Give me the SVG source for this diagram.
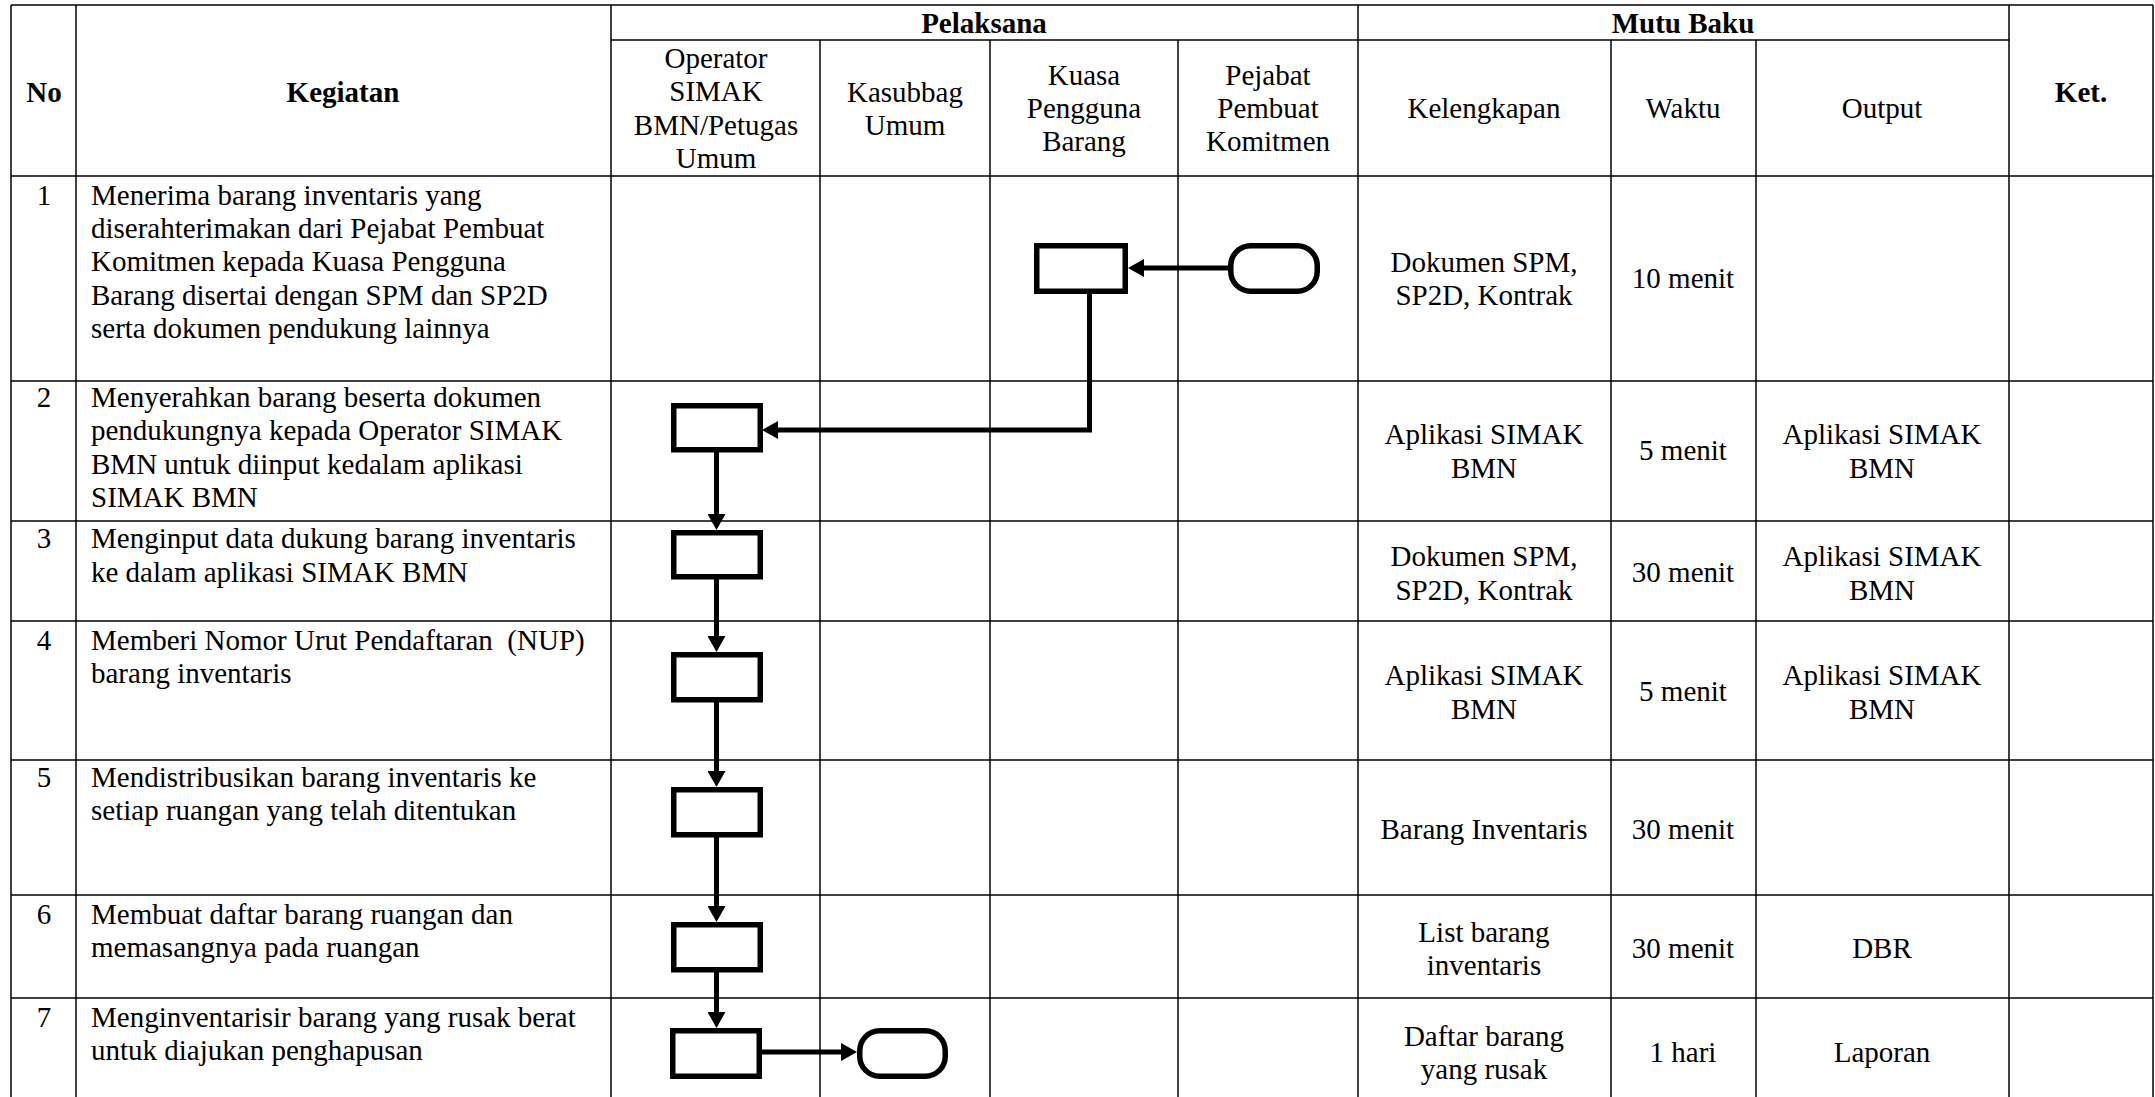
<svg xmlns="http://www.w3.org/2000/svg" width="2155" height="1097" viewBox="0 0 2155 1097">
<style>
.t{font-family:"Liberation Serif","Times New Roman",serif;font-size:29px;fill:#000}
.b{font-weight:bold}
.c{text-anchor:middle}
.grid line{stroke:#000;stroke-width:1.5}
.proc{fill:#fff;stroke:#000;stroke-width:5.5}
.term{fill:#fff;stroke:#000;stroke-width:5.5}
.conn{fill:none;stroke:#000;stroke-width:5}
</style>
<defs>
<marker id="arr" markerUnits="userSpaceOnUse" markerWidth="16" markerHeight="18" refX="10" refY="9" orient="auto">
<path d="M0,0 L16,9 L0,18 Z" fill="#000"/>
</marker>
</defs>
<rect width="2155" height="1097" fill="#fff"/>
<g id="table" class="grid">
<line x1="11" y1="5" x2="2153" y2="5"/>
<line x1="611" y1="40" x2="2009" y2="40"/>
<line x1="11" y1="176" x2="2153" y2="176"/>
<line x1="11" y1="381" x2="2153" y2="381"/>
<line x1="11" y1="521" x2="2153" y2="521"/>
<line x1="11" y1="621" x2="2153" y2="621"/>
<line x1="11" y1="760" x2="2153" y2="760"/>
<line x1="11" y1="895" x2="2153" y2="895"/>
<line x1="11" y1="998" x2="2153" y2="998"/>
<line x1="11" y1="5" x2="11" y2="1097"/>
<line x1="76" y1="5" x2="76" y2="1097"/>
<line x1="611" y1="5" x2="611" y2="1097"/>
<line x1="820" y1="40" x2="820" y2="1097"/>
<line x1="990" y1="40" x2="990" y2="1097"/>
<line x1="1178" y1="40" x2="1178" y2="1097"/>
<line x1="1358" y1="5" x2="1358" y2="1097"/>
<line x1="1611" y1="40" x2="1611" y2="1097"/>
<line x1="1756" y1="40" x2="1756" y2="1097"/>
<line x1="2009" y1="5" x2="2009" y2="1097"/>
<line x1="2153" y1="5" x2="2153" y2="1097"/>
</g>
<g id="header" class="t">
<text class="b c" x="44" y="102">No</text>
<text class="b c" x="343" y="102">Kegiatan</text>
<text class="b c" x="984" y="33">Pelaksana</text>
<text class="b c" x="1683" y="33">Mutu Baku</text>
<text class="b c" x="2081" y="102">Ket.</text>
<text class="c" x="716" y="68">Operator</text>
<text class="c" x="716" y="101">SIMAK</text>
<text class="c" x="716" y="135">BMN/Petugas</text>
<text class="c" x="716" y="168">Umum</text>
<text class="c" x="905" y="102">Kasubbag</text>
<text class="c" x="905" y="135">Umum</text>
<text class="c" x="1084" y="85">Kuasa</text>
<text class="c" x="1084" y="118">Pengguna</text>
<text class="c" x="1084" y="151">Barang</text>
<text class="c" x="1268" y="85">Pejabat</text>
<text class="c" x="1268" y="118">Pembuat</text>
<text class="c" x="1268" y="151">Komitmen</text>
<text class="c" x="1484" y="118">Kelengkapan</text>
<text class="c" x="1683" y="118">Waktu</text>
<text class="c" x="1882" y="118">Output</text>
</g>
<g id="rows" class="t">
<text class="c" x="44" y="205">1</text>
<text x="91" y="205">Menerima barang inventaris yang</text>
<text x="91" y="238">diserahterimakan dari Pejabat Pembuat</text>
<text x="91" y="271">Komitmen kepada Kuasa Pengguna</text>
<text x="91" y="305">Barang disertai dengan SPM dan SP2D</text>
<text x="91" y="338">serta dokumen pendukung lainnya</text>
<text class="c" x="1484" y="272">Dokumen SPM,</text>
<text class="c" x="1484" y="305">SP2D, Kontrak</text>
<text class="c" x="1683" y="288">10 menit</text>

<text class="c" x="44" y="407">2</text>
<text x="91" y="407">Menyerahkan barang beserta dokumen</text>
<text x="91" y="440">pendukungnya kepada Operator SIMAK</text>
<text x="91" y="474">BMN untuk diinput kedalam aplikasi</text>
<text x="91" y="507">SIMAK BMN</text>
<text class="c" x="1484" y="444">Aplikasi SIMAK</text>
<text class="c" x="1484" y="478">BMN</text>
<text class="c" x="1683" y="460">5 menit</text>
<text class="c" x="1882" y="444">Aplikasi SIMAK</text>
<text class="c" x="1882" y="478">BMN</text>

<text class="c" x="44" y="548">3</text>
<text x="91" y="548">Menginput data dukung barang inventaris</text>
<text x="91" y="582">ke dalam aplikasi SIMAK BMN</text>
<text class="c" x="1484" y="566">Dokumen SPM,</text>
<text class="c" x="1484" y="600">SP2D, Kontrak</text>
<text class="c" x="1683" y="582">30 menit</text>
<text class="c" x="1882" y="566">Aplikasi SIMAK</text>
<text class="c" x="1882" y="600">BMN</text>

<text class="c" x="44" y="650">4</text>
<text x="91" y="650" xml:space="preserve">Memberi Nomor Urut Pendaftaran  (NUP)</text>
<text x="91" y="683">barang inventaris</text>
<text class="c" x="1484" y="685">Aplikasi SIMAK</text>
<text class="c" x="1484" y="719">BMN</text>
<text class="c" x="1683" y="701">5 menit</text>
<text class="c" x="1882" y="685">Aplikasi SIMAK</text>
<text class="c" x="1882" y="719">BMN</text>

<text class="c" x="44" y="787">5</text>
<text x="91" y="787">Mendistribusikan barang inventaris ke</text>
<text x="91" y="820">setiap ruangan yang telah ditentukan</text>
<text class="c" x="1484" y="839">Barang Inventaris</text>
<text class="c" x="1683" y="839">30 menit</text>

<text class="c" x="44" y="924">6</text>
<text x="91" y="924">Membuat daftar barang ruangan dan</text>
<text x="91" y="957">memasangnya pada ruangan</text>
<text class="c" x="1484" y="942">List barang</text>
<text class="c" x="1484" y="975">inventaris</text>
<text class="c" x="1683" y="958">30 menit</text>
<text class="c" x="1882" y="958">DBR</text>

<text class="c" x="44" y="1027">7</text>
<text x="91" y="1027">Menginventarisir barang yang rusak berat</text>
<text x="91" y="1060">untuk diajukan penghapusan</text>
<text class="c" x="1484" y="1046">Daftar barang</text>
<text class="c" x="1484" y="1079">yang rusak</text>
<text class="c" x="1683" y="1062">1 hari</text>
<text class="c" x="1882" y="1062">Laporan</text>
</g>
<g id="connectors" class="conn">
<line x1="1228" y1="268" x2="1134" y2="268" marker-end="url(#arr)"/>
<polyline points="1089.5,294 1089.5,430 768,430" marker-end="url(#arr)"/>
<line x1="716.5" y1="452" x2="716.5" y2="524" marker-end="url(#arr)"/>
<line x1="716.5" y1="579" x2="716.5" y2="646" marker-end="url(#arr)"/>
<line x1="716.5" y1="702" x2="716.5" y2="781" marker-end="url(#arr)"/>
<line x1="716.5" y1="837" x2="716.5" y2="916" marker-end="url(#arr)"/>
<line x1="716.5" y1="972" x2="716.5" y2="1022" marker-end="url(#arr)"/>
<line x1="762" y1="1052" x2="851" y2="1052" marker-end="url(#arr)"/>
</g>
<g id="n-terminal-1"><rect class="term" x="1230.75" y="245.75" width="86.5" height="45.5" rx="20" ry="20"/></g>
<g id="n-proc-1"><rect class="proc" x="1036.75" y="245.75" width="88.5" height="45.5"/></g>
<g id="n-proc-2"><rect class="proc" x="673.75" y="405.75" width="86.5" height="44"/></g>
<g id="n-proc-3"><rect class="proc" x="673.75" y="532.75" width="86.5" height="44"/></g>
<g id="n-proc-4"><rect class="proc" x="673.75" y="654.75" width="86.5" height="45"/></g>
<g id="n-proc-5"><rect class="proc" x="673.75" y="789.75" width="86.5" height="45"/></g>
<g id="n-proc-6"><rect class="proc" x="673.75" y="924.75" width="86.5" height="45"/></g>
<g id="n-proc-7"><rect class="proc" x="672.75" y="1030.75" width="86.5" height="45.5"/></g>
<g id="n-terminal-2"><rect class="term" x="859.75" y="1030.75" width="85.5" height="45.5" rx="20" ry="20"/></g>
</svg>
